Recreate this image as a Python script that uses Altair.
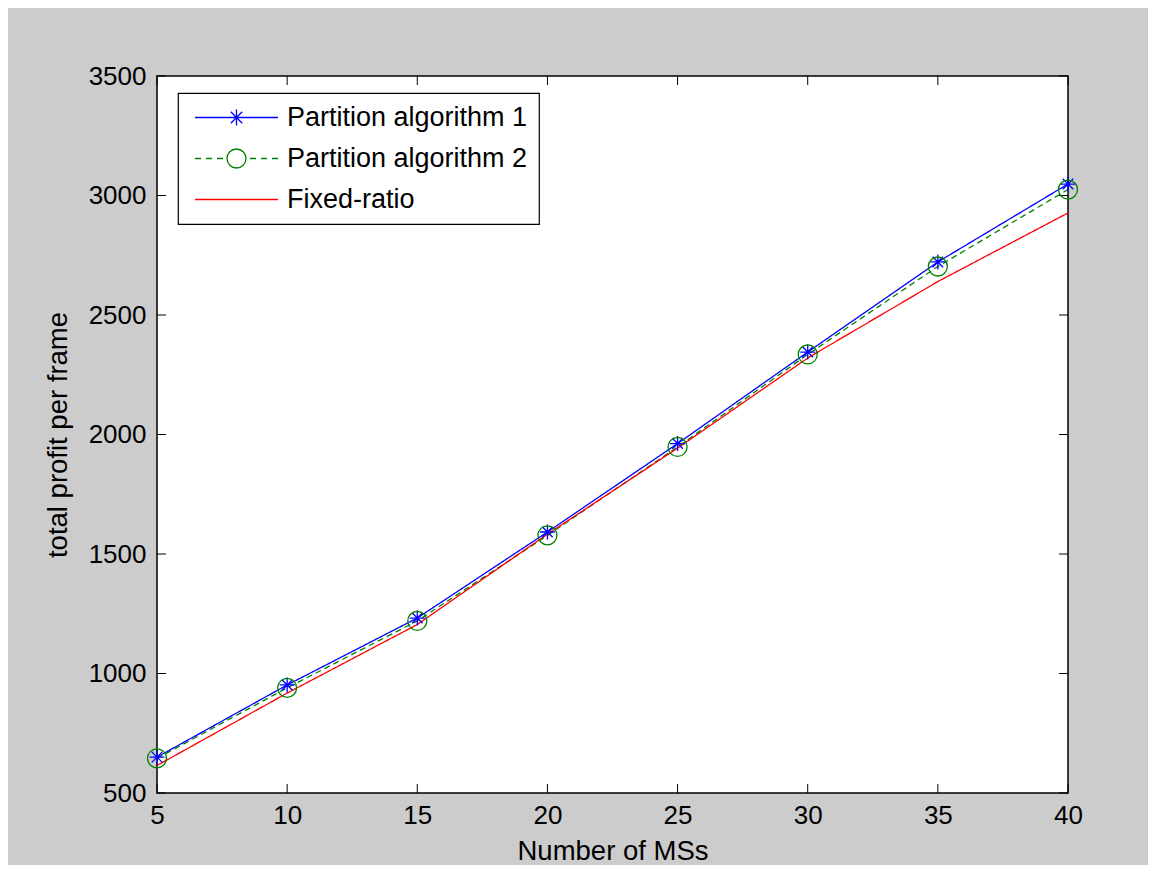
import altair as alt
import pandas as pd

# ---- data ----
ms = [5, 10, 15, 20, 25, 30, 35, 40]
alg1 = [650, 952, 1232, 1592, 1962, 2345, 2722, 3048]
alg2 = [645, 940, 1220, 1578, 1948, 2335, 2703, 3025]
fixed = [615, 918, 1205, 1583, 1943, 2320, 2640, 2927]
series_names = ["Partition algorithm 1", "Partition algorithm 2", "Fixed-ratio"]
series_colors = ["#0000ff", "#008000", "#ff0000"]
x_ticks = [5, 10, 15, 20, 25, 30, 35, 40]
y_ticks = [500, 1000, 1500, 2000, 2500, 3000, 3500]

rows = []
for name, vals in zip(series_names, [alg1, alg2, fixed]):
    for x, v in zip(ms, vals):
        rows.append({"ms": x, "profit": v, "series": name})
df = pd.DataFrame(rows)

W, H = 911, 717
TICK = 9
FONT = "Liberation Sans"

xscale = alt.Scale(domain=[5, 40], nice=False, zero=False)
yscale = alt.Scale(domain=[500, 3500], nice=False, zero=False)

star = "M0,-1L0,1M-1,0L1,0M-0.7,-0.7L0.7,0.7M-0.7,0.7L0.7,-0.7"
circ = "M1,0A1,1,0,1,1,-1,0A1,1,0,1,1,1,0"

# legend symbols: line + marker drawn as one path (unit = 10px)
lg1 = ("M-4.15,0L4.15,0M0,-0.8L0,0.8M-0.8,0L0.8,0"
       "M-0.57,-0.57L0.57,0.57M-0.57,0.57L0.57,-0.57")
lg2 = ("M-4.15,0L-3.55,0M-3.05,0L-2.45,0M-1.95,0L-1.35,0"
       "M1.35,0L1.95,0M2.45,0L3.05,0M3.55,0L4.15,0"
       "M0.95,0A0.95,0.95,0,1,1,-0.95,0A0.95,0.95,0,1,1,0.95,0")
lg3 = "M-4.15,0L4.15,0"

xax = alt.Axis(values=x_ticks, ticks=False, domain=False, grid=False,
               labelFlush=False, labelOverlap=False, labelPadding=9,
               title="Number of MSs", titlePadding=9)
yax = alt.Axis(values=y_ticks, ticks=False, domain=False, grid=False,
               labelOverlap=False, labelPadding=11, format="d",
               title="total profit per frame", titlePadding=16)

base = alt.Chart(df)

lines = base.mark_line(strokeWidth=1.3).encode(
    x=alt.X("ms:Q", scale=xscale, axis=xax),
    y=alt.Y("profit:Q", scale=yscale, axis=yax),
    color=alt.Color("series:N", scale=alt.Scale(domain=series_names, range=series_colors), legend=None),
    strokeDash=alt.StrokeDash("series:N", scale=alt.Scale(domain=series_names, range=[[1, 0], [6, 4], [1, 0]]), legend=None),
    detail="series:N",
)

points = base.transform_filter(alt.datum.series != "Fixed-ratio").mark_point(
    filled=False, strokeWidth=1.3, opacity=1
).encode(
    x=alt.X("ms:Q", scale=xscale),
    y=alt.Y("profit:Q", scale=yscale),
    color=alt.Color("series:N", scale=alt.Scale(domain=series_names, range=series_colors), legend=None),
    shape=alt.Shape("series:N", scale=alt.Scale(domain=series_names[:2], range=[star, circ]), legend=None),
    size=alt.Size("series:N", scale=alt.Scale(domain=series_names[:2], range=[225, 361]), legend=None),
)

legend_layer = base.transform_filter("false").transform_calculate(lg="datum.series").mark_point(
    filled=False, strokeWidth=1.3, opacity=1
).encode(
    x=alt.X("ms:Q", scale=xscale),
    y=alt.Y("profit:Q", scale=yscale),
    color=alt.Color("lg:N", scale=alt.Scale(domain=series_names, range=series_colors),
                    legend=alt.Legend(orient="none", legendX=21, legendY=17, title=None,
                                      fillColor="white", strokeColor="black",
                                      padding=11, rowPadding=13, labelLimit=600,
                                      labelFont=FONT, labelFontSize=27, labelColor="black",
                                      symbolSize=400, symbolStrokeWidth=1.3,
                                      symbolOffset=34, labelOffset=37)),
    shape=alt.Shape("lg:N", scale=alt.Scale(domain=series_names, range=[lg1, lg2, lg3])),
)

xt = pd.DataFrame({"v": x_ticks})
yt = pd.DataFrame({"v": y_ticks})
xt_bot = alt.Chart(xt).mark_rule(color="black", strokeWidth=1).encode(
    x=alt.X("v:Q", scale=xscale), y=alt.value(H), y2=alt.value(H - TICK))
xt_top = alt.Chart(xt).mark_rule(color="black", strokeWidth=1).encode(
    x=alt.X("v:Q", scale=xscale), y=alt.value(0), y2=alt.value(TICK))
yt_left = alt.Chart(yt).mark_rule(color="black", strokeWidth=1).encode(
    y=alt.Y("v:Q", scale=yscale), x=alt.value(0), x2=alt.value(TICK))
yt_right = alt.Chart(yt).mark_rule(color="black", strokeWidth=1).encode(
    y=alt.Y("v:Q", scale=yscale), x=alt.value(W), x2=alt.value(W - TICK))

chart = alt.layer(
    xt_bot, xt_top, yt_left, yt_right, lines, points, legend_layer
).resolve_scale(
    color="independent", shape="independent", size="independent", strokeDash="independent"
).properties(
    width=W, height=H,
    background="#cccccc",
    autosize=alt.AutoSizeParams(type="none"),
    padding={"left": 149, "top": 68, "right": 80, "bottom": 72},
).configure_view(
    fill="white", stroke="black", strokeWidth=1.5
).configure_axis(
    labelFont=FONT, titleFont=FONT, labelFontSize=26, titleFontSize=27.5,
    labelColor="black", titleColor="black", titleFontWeight="normal",
).configure_legend(
    strokeWidth=1.2
)

chart.save("out.html", embed_options={"renderer": "svg", "actions": False})
